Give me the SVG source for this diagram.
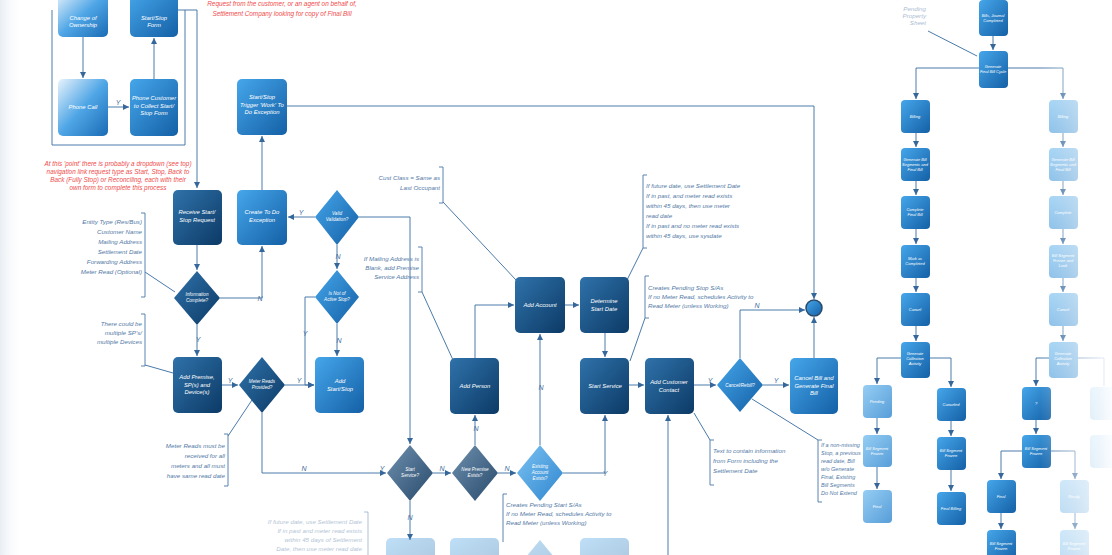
<svg xmlns="http://www.w3.org/2000/svg" width="1112" height="555" viewBox="0 0 1112 555">
<defs>
<linearGradient id="gDark" x1="0" y1="0" x2="1" y2="1"><stop offset="0" stop-color="#2f72aa"/><stop offset="1" stop-color="#0c3a66"/></linearGradient>
<linearGradient id="gMid" x1="0" y1="0" x2="1" y2="1"><stop offset="0" stop-color="#46a6ea"/><stop offset="1" stop-color="#1460a6"/></linearGradient>
<linearGradient id="gLight" x1="0" y1="0" x2="1" y2="1"><stop offset="0" stop-color="#7cc2f2"/><stop offset="1" stop-color="#2e86cf"/></linearGradient>
<linearGradient id="gGray" x1="0" y1="0" x2="1" y2="1"><stop offset="0" stop-color="#6f90ae"/><stop offset="1" stop-color="#284a6c"/></linearGradient>
<linearGradient id="gPale" x1="0" y1="0" x2="1" y2="1"><stop offset="0" stop-color="#e8f3fc"/><stop offset="0.5" stop-color="#4fa6e6"/><stop offset="1" stop-color="#1a6bb4"/></linearGradient>
<linearGradient id="fadeR" x1="0" y1="0" x2="1" y2="0"><stop offset="0" stop-color="#fff" stop-opacity="0"/><stop offset="1" stop-color="#fff" stop-opacity="0.95"/></linearGradient>
<linearGradient id="fadeL" x1="0" y1="0" x2="1" y2="0"><stop offset="0" stop-color="#e9eef4"/><stop offset="1" stop-color="#fff" stop-opacity="0"/></linearGradient>
<linearGradient id="laneFade" x1="0" y1="0" x2="1" y2="0"><stop offset="0" stop-color="#2c4d6e" stop-opacity="0.2"/><stop offset="0.04" stop-color="#2c4d6e"/><stop offset="0.85" stop-color="#2c4d6e"/><stop offset="1" stop-color="#2c4d6e" stop-opacity="0"/></linearGradient>
<marker id="ah" viewBox="0 0 6 6" refX="6" refY="3" markerWidth="6" markerHeight="6" orient="auto"><path d="M0,0 L6,3 L0,6 z" fill="#36679a"/></marker>
<style>
text{font-family:"Liberation Sans",Arial,sans-serif;font-style:italic}
.lbl{font-size:5.9px;fill:#ffffff;text-anchor:middle}
.sl{font-size:4.6px;fill:#ffffff;text-anchor:middle}
.ts{font-size:4px;fill:#ffffff;text-anchor:middle}
.ann{font-size:6.2px;fill:#5279a6}
.annr{font-size:6.2px;fill:#5279a6;text-anchor:end}
.red{font-size:6.4px;fill:#f04a4a;text-anchor:middle}
.yn{font-size:7px;fill:#3f6d9c;text-anchor:middle}
.c{stroke:#4a7aaa;stroke-width:1;fill:none}
.ca{stroke:#4a7aaa;stroke-width:1;fill:none;marker-end:url(#ah)}
.br{stroke:#5a84b0;stroke-width:1;fill:none}
.lane{stroke:url(#laneFade);stroke-width:1.6;stroke-dasharray:5 1.5;fill:none}
.d{fill:url(#gDark)}
.m{fill:url(#gMid)}
.l{fill:url(#gLight)}
.g{fill:url(#gGray)}
.p{fill:url(#gPale)}
</style>
</defs>
<rect width="1112" height="555" fill="#ffffff"/>
<rect width="24" height="555" fill="url(#fadeL)"/>

<g id="lanes">
<path class="lane" d="M20,57 H905"/>
<path class="lane" d="M20,155 H1112"/>
</g>

<g id="connectors">
<path class="c" d="M52,10 V145 H185 V10"/>
<path class="ca" d="M178,10 H197 V188"/>
<path class="ca" d="M83,37 V78"/>
<path class="ca" d="M108,107 H129"/><text class="yn" x="118" y="105">Y</text>
<path class="ca" d="M154,79 V38"/>
<path class="ca" d="M262,190 V136"/>
<path class="ca" d="M287,106 H814 V299"/>
<path class="ca" d="M197,245 V270"/>
<path class="ca" d="M220,298 H262 V246"/><text class="yn" x="260" y="301">N</text>
<path class="ca" d="M315,217 H288"/><text class="yn" x="301" y="215">Y</text>
<path class="ca" d="M359,217 H410 V444"/>
<path class="ca" d="M337,245 V269"/><text class="yn" x="338" y="259">N</text>
<path class="ca" d="M315,297 H305 V385 H314"/><text class="yn" x="305" y="336">Y</text>
<path class="ca" d="M337,324 V356"/><text class="yn" x="339" y="343">N</text>
<path class="ca" d="M197,325 V356"/><text class="yn" x="198" y="342">Y</text>
<path class="ca" d="M222,385 H238"/><text class="yn" x="230" y="383">Y</text>
<path class="ca" d="M285,385 H314"/><text class="yn" x="299" y="383">Y</text>
<path class="ca" d="M262,413 V473 H386"/><text class="yn" x="304" y="471">N</text><text class="yn" x="382" y="471">Y</text>
<path class="ca" d="M433,473 H451"/><text class="yn" x="442" y="471">N</text>
<path class="ca" d="M410,501 V540"/><text class="yn" x="410" y="520">N</text>
<path class="ca" d="M475,445 V415"/><text class="yn" x="476" y="431">N</text>
<path class="ca" d="M498,473 H516"/><text class="yn" x="507" y="471">N</text>
<path class="ca" d="M540,445 V334"/><text class="yn" x="541" y="390">N</text>
<path class="ca" d="M563,473 H605 V415"/><text class="yn" x="605" y="476">Y</text>
<path class="ca" d="M475,358 V305 H514"/>
<path class="ca" d="M565,305 H579"/>
<path class="ca" d="M605,333 V357"/>
<path class="ca" d="M629,385 H644"/>
<path class="ca" d="M694,385 H716"/><text class="yn" x="710" y="383">Y</text>
<path class="ca" d="M763,385 H789"/><text class="yn" x="776" y="383">Y</text>
<path class="ca" d="M740,358 V310 H805"/><text class="yn" x="757" y="308">N</text>
<path class="ca" d="M814,358 V317"/>
<path class="ca" d="M668,555 V415"/>
<!-- annotation links -->
<path class="br" d="M141,213 H145 V297 H141"/><path class="c" d="M145,272 L175,292"/>
<path class="br" d="M141,314 H145 V366 H141"/><path class="c" d="M145,365 L173,373"/>
<path class="br" d="M224,434 H228 V486 H224"/><path class="c" d="M228,436 L252,400"/>
<path class="br" d="M439,167 H443 V203 H439"/><path class="c" d="M443,202 L516,280"/>
<path class="br" d="M418,247 H422 V292 H418"/><path class="c" d="M422,292 L453,360"/>
<path class="br" d="M647,175 H643 V248 H647"/><path class="c" d="M643,248 L627,280"/>
<path class="br" d="M649,276 H645 V318 H649"/><path class="c" d="M645,318 L630,361"/>
<path class="br" d="M507,494 H503 V542"/>
<path class="br" d="M714,440 H710 V485 H714"/><path class="c" d="M694,413 L710,440"/>
<path class="br" d="M822,440 H818 V502 H822"/><path class="c" d="M752,399 L818,440"/>
<path class="br" d="M364,512 H368 V555" opacity="0.5"/>
<!-- right tree -->
<path class="ca" d="M993,36 V50"/>
<path class="c" d="M928,31 L977,56"/>
<path class="ca" d="M979,68 H916 V99"/>
<path class="ca" d="M1008,68 H1063 V99"/>
<path class="ca" d="M916,133 V147"/><path class="ca" d="M916,181 V195"/><path class="ca" d="M916,229 V244"/><path class="ca" d="M916,278 V292"/><path class="ca" d="M916,326 V341"/>
<path class="ca" d="M1063,133 V147"/><path class="ca" d="M1063,181 V195"/><path class="ca" d="M1063,229 V244"/><path class="ca" d="M1063,278 V292"/><path class="ca" d="M1063,326 V341"/>
<path class="ca" d="M901,358 H877 V384"/><path class="ca" d="M930,358 H951 V387"/>
<path class="ca" d="M877,418 V434"/><path class="ca" d="M877,467 V489"/>
<path class="ca" d="M951,421 V436"/><path class="ca" d="M951,470 V491"/>
<path class="ca" d="M1049,358 H1036 V386"/><path class="c" d="M1078,358 H1104 V386"/>
<path class="ca" d="M1036,420 V434"/>
<path class="ca" d="M1022,451 H1001 V479"/><path class="ca" d="M1051,451 H1075 V479"/>
<path class="ca" d="M1001,513 V529"/><path class="ca" d="M1075,513 V529"/>
</g>

<g id="n_change"><rect class="p" x="58" y="-8" width="50" height="45" rx="5"/><text class="lbl" x="83" y="20"><tspan x="83">Change of</tspan><tspan x="83" dy="7">Ownership</tspan></text></g>
<g id="n_form"><rect class="m" x="130" y="-8" width="48" height="45" rx="5"/><text class="lbl" x="154" y="20"><tspan x="154">Start/Stop</tspan><tspan x="154" dy="7">Form</tspan></text></g>
<g id="n_phone"><rect class="p" x="58" y="79" width="50" height="57" rx="5"/><text class="lbl" x="83" y="109">Phone Call</text></g>
<g id="n_phonecust"><rect class="m" x="130" y="79" width="48" height="57" rx="5"/><text class="lbl" x="154" y="100"><tspan x="154">Phone Customer</tspan><tspan x="154" dy="7.5">to Collect Start/</tspan><tspan x="154" dy="7.5">Stop Form</tspan></text></g>
<g id="n_trigger"><rect class="m" x="237" y="79" width="50" height="56" rx="5"/><text class="lbl" x="262" y="99"><tspan x="262">Start/Stop</tspan><tspan x="262" dy="7.5">Trigger 'Work' To</tspan><tspan x="262" dy="7.5">Do Exception</tspan></text></g>
<g id="n_receive"><rect class="d" x="173" y="190" width="49" height="55" rx="5"/><text class="lbl" x="197" y="214"><tspan x="197">Receive Start/</tspan><tspan x="197" dy="7.5">Stop Request</tspan></text></g>
<g id="n_todo"><rect class="m" x="237" y="190" width="50" height="55" rx="5"/><text class="lbl" x="262" y="214"><tspan x="262">Create To Do</tspan><tspan x="262" dy="7.5">Exception</tspan></text></g>
<g id="d_valid"><path class="m" d="M337,190 L359,217 L337,245 L315,217 z"/><text class="sl" x="337" y="215"><tspan x="337">Valid</tspan><tspan x="337" dy="6">Validation?</tspan></text></g>
<g id="d_info"><path class="d" d="M197,271 L220,298 L197,325 L174,298 z"/><text class="sl" x="197" y="296"><tspan x="197">Information</tspan><tspan x="197" dy="6">Complete?</tspan></text></g>
<g id="d_active"><path class="m" d="M337,270 L359,297 L337,324 L315,297 z"/><text class="sl" x="337" y="295"><tspan x="337">Is Not of</tspan><tspan x="337" dy="6">Active Stop?</tspan></text></g>
<g id="n_premise"><rect class="d" x="173" y="357" width="49" height="56" rx="5"/><text class="lbl" x="197" y="379"><tspan x="197">Add Premise,</tspan><tspan x="197" dy="7.5">SP(s) and</tspan><tspan x="197" dy="7.5">Device(s)</tspan></text></g>
<g id="d_meter"><path class="d" d="M262,357 L285,385 L262,413 L239,385 z"/><text class="sl" x="262" y="383"><tspan x="262">Meter Reads</tspan><tspan x="262" dy="6">Provided?</tspan></text></g>
<g id="n_addss"><rect class="m" x="315" y="357" width="49" height="56" rx="5"/><text class="lbl" x="340" y="383"><tspan x="340">Add</tspan><tspan x="340" dy="7.5">Start/Stop</tspan></text></g>
<g id="n_account"><rect class="d" x="515" y="277" width="50" height="56" rx="5"/><text class="lbl" x="540" y="307">Add Account</text></g>
<g id="n_settle"><rect class="d" x="580" y="277" width="49" height="56" rx="5"/><text class="lbl" x="604" y="303"><tspan x="604">Determine</tspan><tspan x="604" dy="7.5">Start Date</tspan></text></g>
<g id="n_person"><rect class="d" x="450" y="358" width="49" height="56" rx="5"/><text class="lbl" x="475" y="388">Add Person</text></g>
<g id="d_startsvc"><path class="g" d="M410,445 L433,473 L410,501 L387,473 z"/><text class="sl" x="410" y="471"><tspan x="410">Start</tspan><tspan x="410" dy="6">Service?</tspan></text></g>
<g id="d_newprem"><path class="g" d="M475,445 L498,473 L475,501 L452,473 z"/><text class="sl" x="475" y="471"><tspan x="475">New Premise</tspan><tspan x="475" dy="6">Exists?</tspan></text></g>
<g id="d_existacct"><path class="l" d="M540,445 L563,473 L540,501 L517,473 z"/><text class="sl" x="540" y="468"><tspan x="540">Existing</tspan><tspan x="540" dy="6">Account</tspan><tspan x="540" dy="6">Exists?</tspan></text></g>
<g id="n_start"><rect class="d" x="580" y="358" width="49" height="56" rx="5"/><text class="lbl" x="605" y="388">Start Service</text></g>
<g id="n_contact"><rect class="d" x="645" y="358" width="49" height="56" rx="5"/><text class="lbl" x="669" y="384"><tspan x="669">Add Customer</tspan><tspan x="669" dy="7.5">Contact</tspan></text></g>
<g id="d_cancel"><path class="m" d="M740,358 L763,385 L740,412 L717,385 z"/><text class="sl" x="740" y="387">Cancel/Rebill?</text></g>
<g id="n_final"><rect class="m" x="790" y="358" width="48" height="56" rx="5"/><text class="lbl" x="814" y="380"><tspan x="814">Cancel Bill and</tspan><tspan x="814" dy="7.5">Generate Final</tspan><tspan x="814" dy="7.5">Bill</tspan></text></g>
<g id="n_end"><circle cx="814" cy="308" r="8" fill="url(#gMid)" stroke="#2a4a6a" stroke-width="1.5"/></g>

<g id="faint_bottom" opacity="0.35">
<rect class="m" x="386" y="538" width="49" height="30" rx="5"/>
<rect class="m" x="450" y="538" width="49" height="30" rx="5"/>
<path class="m" d="M540,540 L563,568 L517,568 z"/>
<rect class="m" x="580" y="538" width="49" height="30" rx="5"/>
</g>

<g id="annotations">
<text class="red" x="282" y="6">Request from the customer, or an agent on behalf of,</text>
<text class="red" x="282" y="16">Settlement Company looking for copy of Final Bill</text>
<text class="red" x="118" y="166"><tspan x="118">At this 'point' there is probably a dropdown (see top)</tspan><tspan x="118" dy="8">navigation link request type as Start, Stop, Back to</tspan><tspan x="118" dy="8">Back (Fully Stop) or Reconciling, each with their</tspan><tspan x="118" dy="8">own form to complete this process</tspan></text>
<text class="annr" x="142" y="224"><tspan x="142">Entity Type (Res/Bus)</tspan><tspan x="142" dy="10">Customer Name</tspan><tspan x="142" dy="10">Mailing Address</tspan><tspan x="142" dy="10">Settlement Date</tspan><tspan x="142" dy="10">Forwarding Address</tspan><tspan x="142" dy="10">Meter Read (Optional)</tspan></text>
<text class="annr" x="142" y="326"><tspan x="142">There could be</tspan><tspan x="142" dy="9">multiple SP's/</tspan><tspan x="142" dy="9">multiple Devices</tspan></text>
<text class="annr" x="225" y="448"><tspan x="225">Meter Reads must be</tspan><tspan x="225" dy="10">received for all</tspan><tspan x="225" dy="10">meters and all must</tspan><tspan x="225" dy="10">have same read date</tspan></text>
<text class="annr" x="440" y="180"><tspan x="440">Cust Class = Same as</tspan><tspan x="440" dy="10">Last Occupant</tspan></text>
<text class="annr" x="419" y="261"><tspan x="419">If Mailing Address is</tspan><tspan x="419" dy="9">Blank, add Premise</tspan><tspan x="419" dy="9">Service Address</tspan></text>
<text class="ann" x="646" y="188"><tspan x="646">If future date, use Settlement Date</tspan><tspan x="646" dy="10">If in past, and meter read exists</tspan><tspan x="646" dy="10">within 45 days, then use meter</tspan><tspan x="646" dy="10">read date</tspan><tspan x="646" dy="10">If in past and no meter read exists</tspan><tspan x="646" dy="10">within 45 days, use sysdate</tspan></text>
<text class="ann" x="648" y="290"><tspan x="648">Creates Pending Stop S/As</tspan><tspan x="648" dy="9">If no Meter Read, schedules Activity to</tspan><tspan x="648" dy="9">Read Meter (unless Working)</tspan></text>
<text class="ann" x="506" y="507"><tspan x="506">Creates Pending Start S/As</tspan><tspan x="506" dy="9">If no Meter Read, schedules Activity to</tspan><tspan x="506" dy="9">Read Meter (unless Working)</tspan></text>
<text class="ann" x="713" y="453"><tspan x="713">Text to contain information</tspan><tspan x="713" dy="10">from Form including the</tspan><tspan x="713" dy="10">Settlement Date</tspan></text>
<text class="ann" x="821" y="447" style="font-size:5.5px"><tspan x="821">If a non-missing</tspan><tspan x="821" dy="8">Stop, a previous</tspan><tspan x="821" dy="8">read date, Bill</tspan><tspan x="821" dy="8">w/o Generate</tspan><tspan x="821" dy="8">Final, Existing</tspan><tspan x="821" dy="8">Bill Segments</tspan><tspan x="821" dy="8">Do Not Extend</tspan></text>
<text class="annr" x="362" y="524" opacity="0.45"><tspan x="362">If future date, use Settlement Date</tspan><tspan x="362" dy="9">If in past and meter read exists</tspan><tspan x="362" dy="9">within 45 days of Settlement</tspan><tspan x="362" dy="9">Date, then use meter read date</tspan></text>
<text class="annr" x="926" y="11" opacity="0.5"><tspan x="926">Pending</tspan><tspan x="926" dy="7">Property</tspan><tspan x="926" dy="7">Sheet</tspan></text>
</g>

<g id="right_tree">
<g id="r_top"><rect class="m" x="979" y="0" width="29" height="36" rx="4"/><text class="ts" x="993" y="17"><tspan x="993">Bills, Journal</tspan><tspan x="993" dy="5">Completed</tspan></text></g>
<g id="r_gen"><rect class="m" x="979" y="51" width="29" height="37" rx="4"/><text class="ts" x="993" y="68"><tspan x="993">Generate</tspan><tspan x="993" dy="5">Final Bill Cycle</tspan></text></g>
<g id="l1"><rect class="m" x="901" y="100" width="29" height="33" rx="4"/><text class="ts" x="915" y="118">Billing</text></g>
<g id="l2"><rect class="m" x="901" y="148" width="29" height="33" rx="4"/><text class="ts" x="915" y="161"><tspan x="915">Generate Bill</tspan><tspan x="915" dy="5">Segments and</tspan><tspan x="915" dy="5">Final Bill</tspan></text></g>
<g id="l3"><rect class="m" x="901" y="196" width="29" height="33" rx="4"/><text class="ts" x="915" y="211"><tspan x="915">Complete</tspan><tspan x="915" dy="5">Final Bill</tspan></text></g>
<g id="l4"><rect class="m" x="901" y="245" width="29" height="33" rx="4"/><text class="ts" x="915" y="260"><tspan x="915">Mark as</tspan><tspan x="915" dy="5">Completed</tspan></text></g>
<g id="l5"><rect class="m" x="901" y="293" width="29" height="33" rx="4"/><text class="ts" x="915" y="311">Cancel</text></g>
<g id="l6"><rect class="m" x="901" y="342" width="29" height="36" rx="4"/><text class="ts" x="915" y="355"><tspan x="915">Generate</tspan><tspan x="915" dy="5">Collection</tspan><tspan x="915" dy="5">Activity</tspan></text></g>
<g opacity="0.75">
<g id="r1"><rect class="l" x="1049" y="100" width="29" height="33" rx="4"/><text class="ts" x="1063" y="118">Billing</text></g>
<g id="r2"><rect class="l" x="1049" y="148" width="29" height="33" rx="4"/><text class="ts" x="1063" y="161"><tspan x="1063">Generate Bill</tspan><tspan x="1063" dy="5">Segments and</tspan><tspan x="1063" dy="5">Final Bill</tspan></text></g>
<g id="r3"><rect class="l" x="1049" y="196" width="29" height="33" rx="4"/><text class="ts" x="1063" y="214">Complete</text></g>
<g id="r4"><rect class="l" x="1049" y="245" width="29" height="33" rx="4"/><text class="ts" x="1063" y="257"><tspan x="1063">Bill Segment</tspan><tspan x="1063" dy="5">Freeze and</tspan><tspan x="1063" dy="5">Lock</tspan></text></g>
<g id="r5"><rect class="l" x="1049" y="293" width="29" height="33" rx="4"/><text class="ts" x="1063" y="311">Cancel</text></g>
<g id="r6"><rect class="l" x="1049" y="342" width="29" height="36" rx="4"/><text class="ts" x="1063" y="355"><tspan x="1063">Generate</tspan><tspan x="1063" dy="5">Collection</tspan><tspan x="1063" dy="5">Activity</tspan></text></g>
</g>
<g id="ll" opacity="0.8">
<rect class="l" x="863" y="385" width="29" height="33" rx="4"/><text class="ts" x="877" y="403">Pending</text>
<rect class="l" x="863" y="435" width="29" height="32" rx="4"/><text class="ts" x="877" y="450"><tspan x="877">Bill Segment</tspan><tspan x="877" dy="5">Frozen</tspan></text>
<rect class="l" x="863" y="490" width="29" height="33" rx="4"/><text class="ts" x="877" y="508">Final</text>
</g>
<g id="lr">
<rect class="m" x="937" y="388" width="29" height="33" rx="4"/><text class="ts" x="951" y="406">Canceled</text>
<rect class="m" x="937" y="437" width="29" height="33" rx="4"/><text class="ts" x="951" y="452"><tspan x="951">Bill Segment</tspan><tspan x="951" dy="5">Frozen</tspan></text>
<rect class="m" x="937" y="492" width="29" height="33" rx="4"/><text class="ts" x="951" y="510">Final Billing</text>
</g>
<g id="rl">
<rect class="m" x="1022" y="387" width="29" height="33" rx="4"/><text class="ts" x="1036" y="405">?</text>
<rect class="m" x="1022" y="435" width="29" height="33" rx="4"/><text class="ts" x="1036" y="450"><tspan x="1036">Bill Segment</tspan><tspan x="1036" dy="5">Frozen</tspan></text>
<rect class="m" x="987" y="480" width="29" height="33" rx="4"/><text class="ts" x="1001" y="498">Final</text>
<rect class="m" x="987" y="530" width="29" height="33" rx="4"/><text class="ts" x="1001" y="545"><tspan x="1001">Bill Segment</tspan><tspan x="1001" dy="5">Frozen</tspan></text>
</g>
<g opacity="0.5">
<rect class="l" x="1060" y="480" width="29" height="33" rx="4"/><text class="ts" x="1074" y="498">Ready</text>
<rect class="l" x="1060" y="530" width="29" height="33" rx="4"/><text class="ts" x="1074" y="545"><tspan x="1074">Bill Segment</tspan><tspan x="1074" dy="5">Frozen</tspan></text>
<rect class="l" x="1090" y="387" width="29" height="33" rx="4"/>
<rect class="l" x="1090" y="435" width="29" height="33" rx="4"/>
</g>
</g>
<rect x="1040" y="0" width="72" height="555" fill="url(#fadeR)"/>
</svg>
